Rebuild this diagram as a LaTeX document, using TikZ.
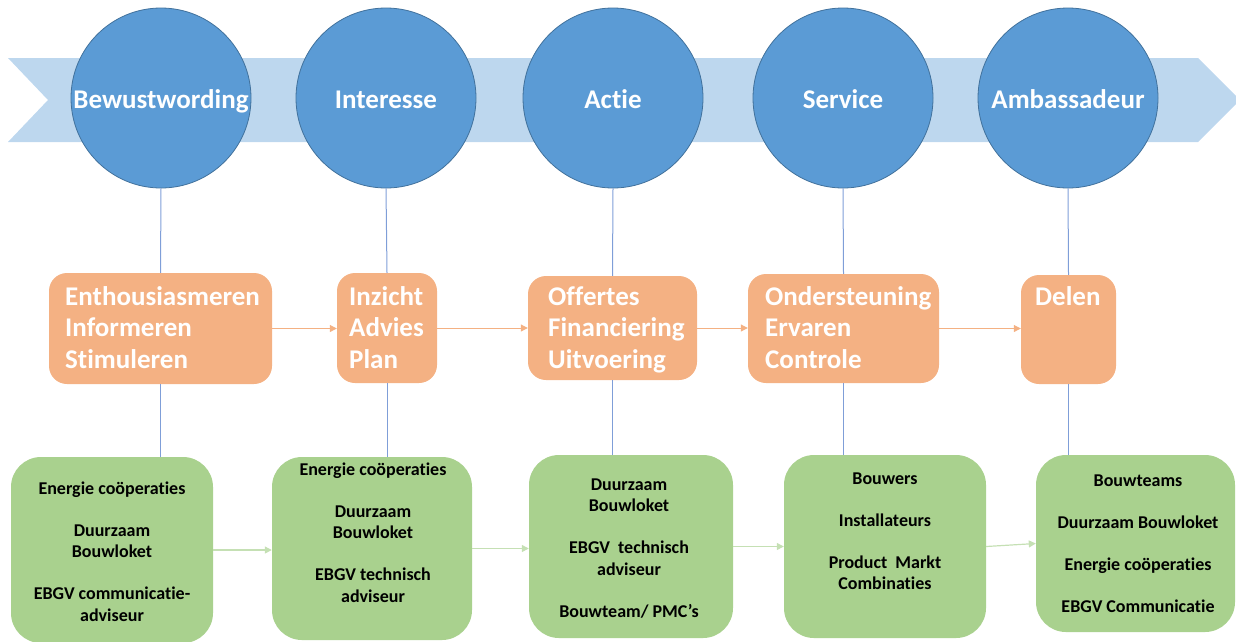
\documentclass[tikz,border=0pt]{standalone}
\usepackage{fontspec}
\setmainfont{Carlito}[Ligatures={NoCommon,NoRequired,NoContextual}]
\usetikzlibrary{arrows.meta}
\definecolor{bandc}{HTML}{BDD7EE}
\definecolor{circf}{HTML}{5B9BD5}
\definecolor{circd}{HTML}{41719C}
\definecolor{orangef}{HTML}{F4B183}
\definecolor{greenf}{HTML}{A9D18E}
\definecolor{greenl}{HTML}{C5E0B4}
\definecolor{vline}{HTML}{7F9ED8}
\tikzset{
  stage/.style={circle,fill=circf,draw=circd,line width=0.8pt,minimum size=180pt,inner sep=0pt},
  stagetxt/.style={anchor=base,inner sep=0pt,text=white,font=\fontsize{27}{32}\selectfont\bfseries},
  obox/.style={rectangle,rounded corners=18pt,fill=orangef,draw=none,inner sep=0pt},
  otxt/.style={anchor=base west,inner sep=0pt,text=white,font=\fontsize{27}{31.5}\selectfont\bfseries},
  gbox/.style={rectangle,rounded corners=30pt,fill=greenf,draw=none,inner sep=0pt},
  gtxt/.style={anchor=base,inner sep=0pt,text=black,font=\fontsize{18}{21.5}\selectfont\bfseries},
  vconn/.style={draw=vline,line width=1pt},
  oarrow/.style={draw=orangef,line width=1pt,-{Triangle[length=7pt,width=7pt]}},
  garrow/.style={draw=greenl,line width=1.2pt,-{Triangle[length=7pt,width=7pt]}},
}
\begin{document}
\begin{tikzpicture}[x=1pt,y=-1pt]
\useasboundingbox (0,0) rectangle (1236,641);
% band
\fill[bandc] (8,58) -- (1198,58) -- (1240,100) -- (1198,142) -- (8,142) -- (48,100) -- cycle;
% circles
\node[stage] (c1) at (161,98) {};
\node[stage] (c2) at (386,98) {};
\node[stage] (c3) at (613,98) {};
\node[stage] (c4) at (843,98) {};
\node[stage] (c5) at (1068,98) {};
\node[stagetxt] (ct1) at (161,108) {Bewustwording};
\node[stagetxt] (ct2) at (386,108) {Interesse};
\node[stagetxt] (ct3) at (613,108) {Actie};
\node[stagetxt] (ct4) at (843,108) {Service};
\node[stagetxt] (ct5) at (1068,108) {Ambassadeur};
% orange boxes
\node[obox,minimum width=223pt,minimum height=111pt] (o1) at (160.5,328.5) {};
\node[obox,minimum width=100pt,minimum height=110pt] (o2) at (387,328) {};
\node[obox,minimum width=169pt,minimum height=104pt] (o3) at (612.5,328) {};
\node[obox,minimum width=191pt,minimum height=109pt] (o4) at (843.5,328.5) {};
\node[obox,minimum width=95pt,minimum height=109pt] (o5) at (1068.5,329.5) {};
\node[otxt] (ot1) at (65,305) {\begin{tabular}[t]{@{}l@{}}Enthousiasmeren\\Informeren\\Stimuleren\end{tabular}};
\node[otxt] (ot2) at (349,305) {\begin{tabular}[t]{@{}l@{}}Inzicht\\Advies\\Plan\end{tabular}};
\node[otxt] (ot3) at (548,305) {\begin{tabular}[t]{@{}l@{}}Offertes\\Financiering\\Uitvoering\end{tabular}};
\node[otxt] (ot4) at (765,305) {\begin{tabular}[t]{@{}l@{}}Ondersteuning\\Ervaren\\Controle\end{tabular}};
\node[otxt] (ot5) at (1035,305) {Delen};
% green boxes
\node[gbox,minimum width=202pt,minimum height=186pt] (g1) at (112,550) {};
\node[gbox,minimum width=200pt,minimum height=183pt] (g2) at (372,548.5) {};
\node[gbox,minimum width=204pt,minimum height=183pt] (g3) at (631,546.5) {};
\node[gbox,minimum width=202pt,minimum height=183pt] (g4) at (885,546.5) {};
\node[gbox,minimum width=199pt,minimum height=177pt] (g5) at (1135.5,543.5) {};
\node[gtxt] (gt1) at (112,494) {\begin{tabular}[t]{@{}c@{}}Energie coöperaties\\[20.5pt]Duurzaam\\Bouwloket\\[20.5pt]EBGV communicatie-\\adviseur\end{tabular}};
\node[gtxt] (gt2) at (373,475) {\begin{tabular}[t]{@{}c@{}}Energie coöperaties\\[20.5pt]Duurzaam\\Bouwloket\\[20.5pt]EBGV technisch\\adviseur\end{tabular}};
\node[gtxt] (gt3) at (629,490) {\begin{tabular}[t]{@{}c@{}}Duurzaam\\Bouwloket\\[20.5pt]EBGV\ \ technisch\\adviseur\\[20.5pt]Bouwteam/ PMC’s\end{tabular}};
\node[gtxt] (gt4) at (885,484) {\begin{tabular}[t]{@{}c@{}}Bouwers\\[20.5pt]Installateurs\\[20.5pt]Product\ \ Markt\\Combinaties\end{tabular}};
\node[gtxt] (gt5) at (1138,486) {\begin{tabular}[t]{@{}c@{}}Bouwteams\\[20.5pt]Duurzaam Bouwloket\\[20.5pt]Energie coöperaties\\[20.5pt]EBGV Communicatie\end{tabular}};
% vertical connectors
\foreach \i in {1,...,5} {
  \draw[vconn] (c\i.south) -- (o\i.north);
  \draw[vconn] (o\i.south) -- (o\i.south |- g\i.north);
}
% orange arrows
\draw[oarrow] (o1.east) -- (o1.east -| o2.west);
\draw[oarrow] (o2.east) -- (o2.east -| o3.west);
\draw[oarrow] (o3.east) -- (o3.east -| o4.west);
\draw[oarrow] (o4.east) -- (o4.east -| o5.west);
% green arrows
\draw[garrow] (g1.east) -- (g1.east -| g2.west);
\draw[garrow] (g2.east) -- (g2.east -| g3.west);
\draw[garrow] (g3.east) -- (g3.east -| g4.west);
\draw[garrow] (g4.east) -- (g5.west);
\end{tikzpicture}
\end{document}
